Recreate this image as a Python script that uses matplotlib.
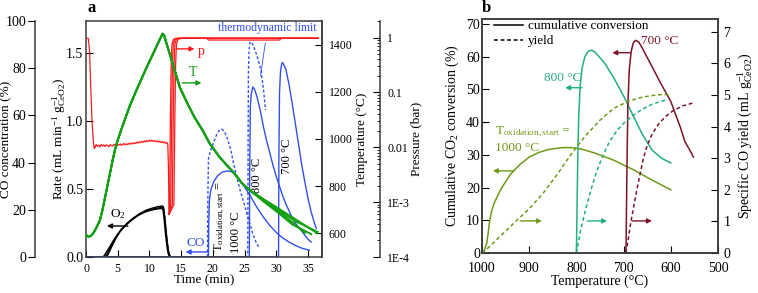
import matplotlib
matplotlib.use('Agg')
import matplotlib.pyplot as plt
from matplotlib.ticker import FixedLocator, NullFormatter, LogLocator
from matplotlib.lines import Line2D

plt.rcParams['font.family'] = 'Liberation Serif'
plt.rcParams['mathtext.fontset'] = 'custom'
plt.rcParams['mathtext.rm'] = 'Liberation Serif'
plt.rcParams['mathtext.it'] = 'Liberation Serif:italic'
plt.rcParams['mathtext.bf'] = 'Liberation Serif:bold'

# ---------------- panel a data ----------------
# pressure (bar), common part
p_t = [0, 0.35, 0.55, 0.75, 0.95, 1.15, 1.3,
       1.4, 1.6, 1.8, 2.0, 2.2, 2.4, 2.6, 2.8, 3.0, 3.2, 3.4, 3.6, 3.8, 4.0, 4.2, 4.4, 4.6, 4.8,
       5.0, 5.2, 5.4, 5.6, 5.8, 6.0, 6.2, 6.4, 6.6, 6.8, 7.0, 7.2, 7.4, 7.6, 7.8, 8.0, 8.2, 8.4,
       8.6, 8.8, 9.0, 9.2, 9.4, 9.6, 9.8, 10.0, 10.2, 10.4, 10.6, 10.8, 11.0, 11.2, 11.4, 11.6,
       11.8, 12.0, 12.2, 12.4, 12.6, 12.8, 12.9, 13.0, 13.1]
p_val = [0.97, 0.97, 0.6, 0.12, 0.03, 0.013, 0.0095,
         0.0098, 0.0112, 0.0104, 0.0109, 0.0101, 0.0113, 0.0106, 0.0110, 0.0103, 0.0111,
         0.0107, 0.0102, 0.0112, 0.0108, 0.0105, 0.0113, 0.0109, 0.0104, 0.0112, 0.0110,
         0.0115, 0.0108, 0.0113, 0.0117, 0.0110, 0.0116, 0.0112, 0.0118, 0.0114, 0.0120,
         0.0115, 0.0121, 0.0117, 0.0124, 0.0119, 0.0126, 0.0121, 0.0128, 0.0123, 0.0131,
         0.0125, 0.0133, 0.0127, 0.0135, 0.0129, 0.0134, 0.0128, 0.0132, 0.0126, 0.0131,
         0.0124, 0.0129, 0.0122, 0.0127, 0.0120, 0.0125, 0.0118, 0.0121, 0.0110, 0.004, 0.0006]
# pressure recovery of the four runs
p_rise_t = [[13.1, 13.2, 13.3, 13.42, 13.55, 13.8, 14.3, 36.6],
            [13.1, 13.35, 13.5, 13.62, 13.75, 14.0, 14.5, 19.0, 19.3, 30.5, 30.8, 36.6],
            [13.1, 13.6, 13.75, 13.87, 14.0, 14.25, 14.8, 36.6],
            [13.1, 13.85, 14.0, 14.12, 14.25, 14.5, 15.05, 36.6]]
p_rise = [[0.0006, 0.002, 0.03, 0.3, 0.75, 0.93, 0.97, 0.97],
          [0.0006, 0.0009, 0.03, 0.3, 0.75, 0.93, 0.97, 0.97, 0.9, 0.9, 0.97, 0.97],
          [0.0006, 0.0009, 0.03, 0.3, 0.75, 0.93, 0.97, 0.97],
          [0.0006, 0.0009, 0.03, 0.3, 0.75, 0.93, 0.97, 0.97]]

# temperature (°C)
T_t = [0, 0.4, 0.8, 1.2, 1.6, 2.2, 2.6, 3.0, 3.4, 3.8, 4.2, 4.6, 5.0, 5.5, 6.0, 6.9, 8.0, 9.5,
       10.5, 11.3, 12.05, 12.3, 13.2, 14.8, 16.0, 17.1, 18.4, 19.5, 21.0, 22.5, 23.4, 24.5, 25.8]
T_val = [593, 586, 590, 603, 622, 656, 700, 752, 805, 857, 910, 958, 995, 1035, 1073, 1140, 1210,
         1300, 1357, 1403, 1446, 1440, 1360, 1218, 1150, 1092, 1036, 981, 925, 880, 854, 815, 783]
T_tail_t = [[25.8, 28.0, 30.5, 33.0, 36.5],
            [25.8, 28.0, 30.5, 33.0, 36.5],
            [25.8, 28.0, 30.5, 32.5, 34.5],
            [25.8, 28.0, 30.5, 32.5, 35.5]]
T_tail = [[783, 745, 703, 660, 600],
          [783, 742, 696, 652, 606],
          [783, 738, 690, 648, 602],
          [783, 735, 683, 638, 597]]

# O2 rate
o2_t = [[0, 2.7, 3.0, 3.4, 3.8, 4.3, 4.8, 5.5, 6.4, 7.4, 8.5, 9.5, 10.5, 11.3, 12.0, 12.2, 12.4,
         12.6, 12.8, 13.0, 13.2, 13.4, 14.0],
        [0, 3.2, 3.5, 3.9, 4.3, 4.8, 5.5, 6.4, 7.4, 8.5, 9.5, 10.5, 11.3, 12.0, 12.25, 12.45,
         12.65, 12.85, 13.05, 13.25, 13.45, 14.0],
        [0, 3.0, 3.3, 3.7, 4.1, 4.6, 5.3, 6.2, 7.2, 8.3, 9.3, 10.3, 11.2, 11.9, 12.15, 12.35,
         12.55, 12.75, 12.95, 13.15, 13.35, 14.0]]
o2_val = [[0, 0, 0.02, 0.05, 0.08, 0.12, 0.155, 0.2, 0.245, 0.285, 0.32, 0.345, 0.36, 0.37,
           0.375, 0.37, 0.3, 0.2, 0.11, 0.04, 0.01, 0, 0],
          [0, 0, 0.02, 0.06, 0.1, 0.145, 0.195, 0.24, 0.28, 0.315, 0.338, 0.352, 0.36, 0.365,
           0.35, 0.27, 0.17, 0.09, 0.03, 0.005, 0, 0],
          [0, 0, 0.02, 0.055, 0.09, 0.135, 0.185, 0.232, 0.272, 0.308, 0.33, 0.345, 0.353, 0.357,
           0.345, 0.26, 0.16, 0.08, 0.025, 0.004, 0, 0]]

# CO rate
co1000_t = [0, 19.3, 19.35, 19.45, 19.7, 20.2, 20.8, 21.5, 22.2, 22.9, 23.6, 24.3, 25.0, 26.0,
            27.0, 28.0, 29.0, 30.0, 31.0, 32.0, 33.0, 34.0, 35.2]
co1000 = [0, 0, 0.25, 0.42, 0.5, 0.56, 0.6, 0.625, 0.632, 0.628, 0.605, 0.565, 0.515, 0.44,
          0.36, 0.29, 0.23, 0.18, 0.14, 0.11, 0.085, 0.065, 0.05]
co1000_lim_t = [0, 19.15, 19.2, 19.3, 19.6, 20.1, 20.6, 21.0, 21.4, 21.8, 22.3, 22.8, 23.3,
                23.8, 24.3, 24.8, 25.3, 25.8, 26.3, 26.8, 27.3]
co1000_lim = [0, 0, 0.4, 0.72, 0.78, 0.84, 0.9, 0.93, 0.94, 0.925, 0.87, 0.79, 0.68, 0.58,
              0.49, 0.41, 0.33, 0.25, 0.17, 0.11, 0.065]
co800_t = [0, 25.75, 25.8, 25.9, 26.05, 26.3, 26.6, 27.0, 27.5, 28.0, 28.5, 29.0, 29.5, 30.0,
           30.5, 31.0, 31.5, 32.0, 32.5, 33.0, 33.5, 34.0, 34.5, 35.0, 35.5]
co800 = [0, 0, 0.6, 1.1, 1.2, 1.25, 1.23, 1.17, 1.07, 0.95, 0.85, 0.76, 0.67, 0.59, 0.52, 0.45,
         0.39, 0.34, 0.29, 0.25, 0.22, 0.19, 0.16, 0.13, 0.11]
co800_lim_t = [0, 25.5, 25.55, 25.6, 25.7, 25.85, 26.1, 26.4, 26.8, 27.2, 27.6, 28.0, 28.3]
co800_lim = [0, 0, 0.8, 1.35, 1.52, 1.58, 1.58, 1.55, 1.5, 1.44, 1.37, 1.22, 1.08]
co700_t = [0, 30.35, 30.4, 30.5, 30.65, 30.85, 31.0, 31.5, 32.0, 32.5, 33.0, 33.5, 34.0, 34.5,
           35.0, 35.5, 36.0, 36.3]
co700 = [0, 0, 0.7, 1.2, 1.36, 1.42, 1.43, 1.38, 1.27, 1.13, 0.98, 0.83, 0.68, 0.55, 0.43,
         0.33, 0.25, 0.21]

# ---------------- panel b data ----------------
olive_T = [1000, 995, 990, 987, 984, 980, 975, 960, 940, 920, 900, 880, 860, 830, 810, 790, 760,
           720, 680, 640, 600]
olive_conv = [0, 0.8, 3, 6, 9.5, 12.5, 15, 19.5, 24, 27, 29.3, 30.7, 31.6, 32.2, 32.2, 31.8,
              30.5, 28.3, 25.5, 22.3, 19.3]
olive_yT = [1000, 990, 960, 930, 900, 870, 840, 810, 780, 750, 720, 690, 660, 630, 600]
olive_yield = [0, 0.12, 0.55, 0.98, 1.4, 1.9, 2.5, 3.15, 3.72, 4.2, 4.58, 4.8, 4.93, 5.0, 5.02]
teal_T = [800, 798.5, 797, 795, 792, 788, 782, 775, 768, 760, 740, 720, 700, 680, 660, 640,
          620, 600]
teal_conv = [0, 15, 30, 42, 51, 56.5, 60, 61.6, 62, 61.3, 58, 53.3, 48, 42, 36.2, 31.5, 29, 27.5]
teal_yT = [800, 795, 790, 780, 770, 760, 750, 740, 730, 715, 700, 680, 660, 640, 620, 608]
teal_yield = [0, 0.4, 0.8, 1.4, 1.95, 2.45, 2.85, 3.2, 3.52, 3.85, 4.1, 4.35, 4.55, 4.7, 4.8, 4.85]
dred_T = [695, 694, 693, 691, 688, 684, 680, 675, 668, 660, 640, 620, 600, 580, 570, 560, 552]
dred_conv = [0, 12, 25, 45, 56, 61.5, 64, 65, 64.5, 62.5, 57, 51.5, 46.3, 38.5, 34, 31.5, 29.3]
dred_yT = [695, 690, 685, 680, 672, 665, 658, 650, 640, 625, 610, 595, 575, 552]
dred_yield = [0, 0.45, 0.95, 1.35, 2.0, 2.5, 3.0, 3.4, 3.75, 4.1, 4.33, 4.5, 4.65, 4.75]

RED = '#ff1a1a'
GREEN = '#14a014'
BLUE = '#3050ee'
OLIVE = '#6e9a18'
TEAL = '#22b07a'
DRED = '#7b1426'
SPINE = '#3a3a3a'


def arrow(ax, x0, y0, x1, y1, c):
    ax.annotate('', xy=(x1, y1), xytext=(x0, y0),
                arrowprops=dict(arrowstyle='-|>', color=c, lw=1.0, mutation_scale=7,
                                shrinkA=0, shrinkB=0))


def ylab(axis, text, x, size):
    axis.set_ylabel(text, fontsize=size)
    axis.yaxis.set_label_coords(x, 0.5)
    axis.yaxis.label.set_verticalalignment('center')


fig = plt.figure(figsize=(7.58, 2.93), dpi=100)

# ================= panel a =================
ax = fig.add_axes([86 / 758, 36 / 293, 236 / 758, 236 / 293])
ax_co = ax.twinx()
ax_p = ax.twinx()
ax_T = ax.twinx()

ax.set_xlim(0, 37.2)
ax.set_ylim(0, 1.735)
ax.set_xticks([0, 5, 10, 15, 20, 25, 30, 35])
ax.set_yticks([0, 0.5, 1.0, 1.5])
ax.set_yticklabels(['0.0', '0.5', '1.0', '1.5'])
ax.tick_params(axis='y', direction='in', length=5, labelsize=10, pad=2)
ax.tick_params(axis='x', direction='in', length=5, labelsize=8.5, pad=4, top=False)
ax.set_xlabel('Time (min)', fontsize=9.5)
ax.xaxis.set_label_coords(0.5, -0.1)
ax.xaxis.label.set_verticalalignment('center')
ylab(ax, r'Rate (mL min$^{-1}$ g$^{-1}_{\rm CeO2}$)', -0.115, 9.5)

ax_co.set_ylim(0, 100)
ax_co.spines['right'].set_visible(False)
ax_co.spines['left'].set_visible(True)
ax_co.spines['left'].set_position(('axes', -0.216))
ax_co.yaxis.set_ticks_position('left')
ax_co.yaxis.set_label_position('left')
ax_co.set_yticks([0, 20, 40, 60, 80, 100])
ax_co.tick_params(axis='y', direction='out', length=5, labelsize=10, pad=1.5)
ylab(ax_co, 'CO concentration (%)', -0.338, 9.5)

ax_p.set_yscale('log')
ax_p.set_ylim(1e-4, 2.0)
ax_p.spines['right'].set_position(('axes', 1.246))
ax_p.yaxis.set_major_locator(FixedLocator([1e-4, 1e-3, 1e-2, 0.1, 1]))
ax_p.set_yticklabels(['1E-4', '1E-3', '0.01', '0.1', '1'])
ax_p.yaxis.set_minor_locator(LogLocator(subs=range(2, 10)))
ax_p.yaxis.set_minor_formatter(NullFormatter())
ax_p.tick_params(axis='y', which='major', direction='in', length=5, labelsize=8.5, pad=5)
ax_p.tick_params(axis='y', which='minor', direction='in', length=2.5)
ylab(ax_p, 'Pressure (bar)', 1.40, 9.5)

ax_T.set_ylim(500, 1500)
ax_T.set_yticks([600, 800, 1000, 1200, 1400])
ax_T.tick_params(axis='y', direction='in', length=5, labelsize=8.5, pad=5)
ylab(ax_T, 'Temperature (°C)', 1.17, 9.5)

for a in (ax, ax_co, ax_p, ax_T):
    for s in a.spines.values():
        s.set_color(SPINE)
        s.set_linewidth(1.1)
for a in (ax_co, ax_p, ax_T):
    a.spines['top'].set_visible(False)
    a.spines['bottom'].set_visible(False)
for a in (ax_p, ax_T):
    a.spines['left'].set_visible(False)

# pressure
ax_p.plot(p_t, p_val, color=RED, lw=0.9)
for tt, vv in zip(p_rise_t, p_rise):
    ax_p.plot(tt, vv, color=RED, lw=0.9)

# temperature
for tt, vv in zip(T_tail_t, T_tail):
    ax_T.plot(T_t + tt, T_val + vv, color=GREEN, lw=1.4)

# O2 and CO rates
for tt, vv in zip(o2_t, o2_val):
    ax.plot(tt, vv, color='black', lw=1.0)
dash = (0, (2, 1.5))
ax.plot(co1000_t, co1000, color=BLUE, lw=1.0)
ax.plot(co1000_lim_t, co1000_lim, color=BLUE, lw=1.0, ls=dash)
ax.plot(co800_t, co800, color=BLUE, lw=1.0)
ax.plot(co800_lim_t, co800_lim, color=BLUE, lw=1.0, ls=dash)
ax.plot(co700_t, co700, color=BLUE, lw=1.0)

# annotations panel a
arrow(ax, 14.3, 1.53, 17.1, 1.53, RED)
ax.text(17.6, 1.51, 'p', color=RED, fontsize=10, ha='left', va='center')
arrow(ax, 15.2, 1.28, 18.2, 1.28, GREEN)
ax.text(16.9, 1.36, 'T', color=GREEN, fontsize=10, ha='center', va='center')
arrow(ax, 6.6, 0.228, 3.3, 0.228, 'black')
ax.text(5.0, 0.315, r'O$_2$', color='black', fontsize=9.5, ha='center', va='center')
arrow(ax, 19.2, 0.037, 15.7, 0.037, BLUE)
ax.text(17.3, 0.105, 'CO', color=BLUE, fontsize=9.5, ha='center', va='center')
ax.annotate('thermodynamic limit', xy=(27.5, 1.33), xytext=(28.6, 1.68), color=BLUE,
            fontsize=8.5, ha='center', va='center',
            arrowprops=dict(arrowstyle='-', color=BLUE, lw=0.6, shrinkA=4, shrinkB=0))
ax.text(21.1, 0.30, r'T$_{\rm oxidation,start}$ =', rotation=90, fontsize=9,
        ha='center', va='center')
ax.text(23.7, 0.18, '1000 °C', rotation=90, fontsize=9, ha='center', va='center')
ax.text(26.9, 0.60, '800 °C', rotation=90, fontsize=9, ha='center', va='center')
ax.text(31.7, 0.74, '700 °C', rotation=90, fontsize=9, ha='center', va='center')

fig.text(87 / 758, 1 - 8 / 293, 'a', fontsize=12, fontweight='bold', ha='left', va='center')

# ================= panel b =================
ax2 = fig.add_axes([482 / 758, 40 / 293, 236 / 758, 234 / 293])
ax2r = ax2.twinx()
ax2.set_xlim(1000, 500)
ax2.set_ylim(0, 71.5)
ax2r.set_ylim(0, 7.4)
ax2.set_xticks([1000, 900, 800, 700, 600, 500])
ax2.set_yticks([0, 10, 20, 30, 40, 50, 60, 70])
ax2r.set_yticks([0, 1, 2, 3, 4, 5, 6, 7])
ax2.tick_params(axis='y', direction='in', length=5, labelsize=10, pad=1.5, right=False)
ax2.tick_params(axis='x', direction='in', length=5, labelsize=10, pad=6.5, top=False)
ax2r.tick_params(axis='y', direction='in', length=5, labelsize=10, pad=4)
for a in (ax2, ax2r):
    for s in a.spines.values():
        s.set_color(SPINE)
        s.set_linewidth(1.1)
ax2.set_xlabel('Temperature (°C)', fontsize=10)
ax2.xaxis.set_label_coords(0.5, -0.122)
ax2.xaxis.label.set_verticalalignment('center')
ylab(ax2, r'Cumulative CO$_2$ conversion (%)', -0.125, 10)
ylab(ax2r, r'Specific CO yield (mL g$^{-1}_{\rm CeO2}$)', 1.115, 10)

ydash = (0, (2.5, 1.8))
ax2.plot(olive_T, olive_conv, color=OLIVE, lw=1.1)
ax2.plot(teal_T, teal_conv, color=TEAL, lw=1.1)
ax2.plot(dred_T, dred_conv, color=DRED, lw=1.1)
ax2r.plot(olive_yT, olive_yield, color=OLIVE, lw=1.1, ls=ydash)
ax2r.plot(teal_yT, teal_yield, color=TEAL, lw=1.1, ls=ydash)
ax2r.plot(dred_yT, dred_yield, color=DRED, lw=1.1, ls=ydash)

handles = [Line2D([], [], color='black', lw=1.1),
           Line2D([], [], color='black', lw=1.1, ls=ydash)]
ax2.legend(handles, ['cumulative conversion', 'yield'], loc='upper left',
           bbox_to_anchor=(0.01, 1.035), frameon=False, fontsize=9.5, handlelength=2.2,
           handletextpad=0.4, labelspacing=0.2, borderpad=0.2)

ax2.text(972, 37, r'T$_{\rm oxidation,start}$ =', color=OLIVE, fontsize=9.5, ha='left',
         va='center')
ax2.text(972, 32, '1000 °C', color=OLIVE, fontsize=9.5, ha='left', va='center')
arrow(ax2, 934, 25.1, 977, 25.1, OLIVE)
arrow(ax2, 919, 9.8, 873, 9.8, OLIVE)
ax2.text(828, 53.5, '800 °C', color=TEAL, fontsize=9.5, ha='center', va='center')
arrow(ax2, 788, 50.5, 824, 50.5, TEAL)
arrow(ax2, 777, 9.8, 735, 9.8, TEAL)
ax2.text(623, 64.8, '700 °C', color=DRED, fontsize=9.5, ha='center', va='center')
arrow(ax2, 686, 61.2, 724, 61.2, DRED)
arrow(ax2, 682, 9.8, 640, 9.8, DRED)

fig.text(482 / 758, 1 - 8 / 293, 'b', fontsize=12, fontweight='bold', ha='left', va='center')

fig.savefig('out.png', dpi=100)
